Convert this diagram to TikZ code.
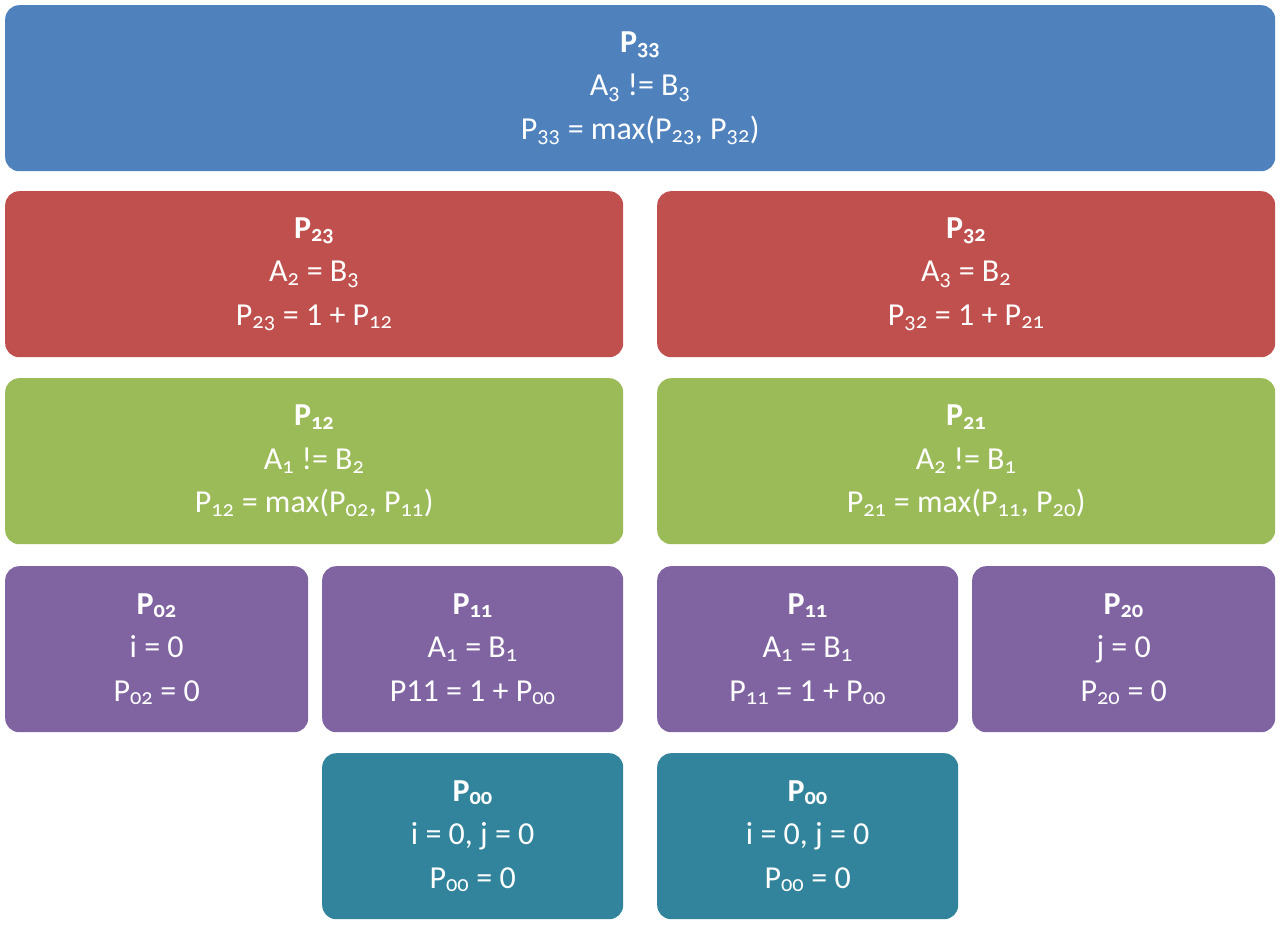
\documentclass[tikz,border=0pt]{standalone}
\usepackage{fontspec}
\setmainfont{Carlito}
\newfontfamily\subfont[Numbers=OldStyle]{Carlito}
\newcommand{\sbs}[1]{\textsubscript{\subfont #1}}
\definecolor{cblue}{HTML}{4F81BD}
\definecolor{cred}{HTML}{C0504D}
\definecolor{cgreen}{HTML}{9BBB59}
\definecolor{cpurple}{HTML}{8064A2}
\definecolor{cteal}{HTML}{31849B}
\tikzset{
  box/.style={rounded corners=14pt, anchor=north west, inner sep=0pt,
    minimum height=166pt, text=white, align=center,
    font=\fontsize{32}{43.5}\selectfont},
  wide/.style={box, minimum width=1270pt},
  half/.style={box, minimum width=618pt},
  quarter/.style={box, minimum width=302pt},
}
\begin{document}
\begin{tikzpicture}[x=1pt,y=-1pt]
\useasboundingbox (0,0) rectangle (1280,925);
\node[wide, fill=cblue] (p33) at (5,5)
  {\textbf{P\sbs{33}}\\A\sbs{3} != B\sbs{3}\\P\sbs{33} = max(P\sbs{23}, P\sbs{32})};
\node[half, fill=cred] (p23) at (5,191)
  {\textbf{P\sbs{23}}\\A\sbs{2} = B\sbs{3}\\P\sbs{23} = 1 + P\sbs{12}};
\node[half, fill=cred] (p32) at (657,191)
  {\textbf{P\sbs{32}}\\A\sbs{3} = B\sbs{2}\\P\sbs{32} = 1 + P\sbs{21}};
\node[half, fill=cgreen] (p12) at (5,378)
  {\textbf{P\sbs{12}}\\A\sbs{1} != B\sbs{2}\\P\sbs{12} = max(P\sbs{02}, P\sbs{11})};
\node[half, fill=cgreen] (p21) at (657,378)
  {\textbf{P\sbs{21}}\\A\sbs{2} != B\sbs{1}\\P\sbs{21} = max(P\sbs{11}, P\sbs{20})};
\node[quarter, minimum width=303pt, fill=cpurple] (p02) at (5,566)
  {\textbf{P\sbs{02}}\\i = 0\\P\sbs{02} = 0};
\node[quarter, minimum width=301pt, fill=cpurple] (p11a) at (322,566)
  {\textbf{P\sbs{11}}\\A\sbs{1} = B\sbs{1}\\P11 = 1 + P\sbs{00}};
\node[quarter, minimum width=301pt, fill=cpurple] (p11b) at (657,566)
  {\textbf{P\sbs{11}}\\A\sbs{1} = B\sbs{1}\\P\sbs{11} = 1 + P\sbs{00}};
\node[quarter, minimum width=303pt, fill=cpurple] (p20) at (972,566)
  {\textbf{P\sbs{20}}\\j = 0\\P\sbs{20} = 0};
\node[quarter, minimum width=301pt, fill=cteal] (p00a) at (322,753)
  {\textbf{P\sbs{00}}\\i = 0, j = 0\\P\sbs{00} = 0};
\node[quarter, minimum width=301pt, fill=cteal] (p00b) at (657,753)
  {\textbf{P\sbs{00}}\\i = 0, j = 0\\P\sbs{00} = 0};
\end{tikzpicture}
\end{document}
